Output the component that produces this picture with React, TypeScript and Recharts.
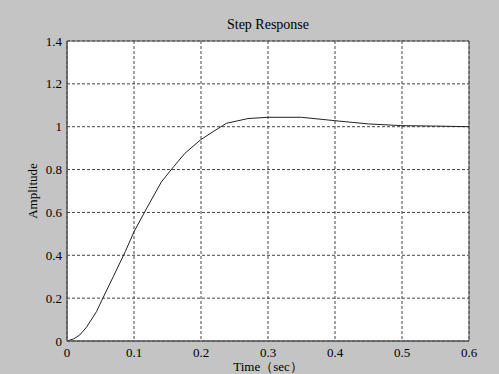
import React from 'react';
import { LineChart, Line, XAxis, YAxis, CartesianGrid, ReferenceArea } from 'recharts';

const timeSec = [0, 0.01, 0.019, 0.029, 0.044, 0.052, 0.069, 0.087, 0.1, 0.119, 0.141, 0.159, 0.176, 0.199, 0.218, 0.238, 0.27, 0.3, 0.35, 0.4, 0.45, 0.5, 0.55, 0.6];
const amplitude = [0, 0.01, 0.028, 0.064, 0.137, 0.19, 0.3, 0.417, 0.51, 0.62, 0.743, 0.813, 0.876, 0.938, 0.977, 1.016, 1.038, 1.044, 1.044, 1.028, 1.013, 1.005, 1.003, 1.0];
const xTicks = [0, 0.1, 0.2, 0.3, 0.4, 0.5, 0.6];
const yTicks = [0, 0.2, 0.4, 0.6, 0.8, 1, 1.2, 1.4];
const title = 'Step Response';
const xLabel = 'Time（sec）';
const yLabel = 'Amplitude';

const data = timeSec.map((t, i) => ({ t, a: amplitude[i] }));

const font = '"Liberation Serif", "DejaVu Serif", serif';
const tickStyle = { fontFamily: font, fontSize: 13, fill: '#000' };

export default function App() {
  return (
    <div style={{ position: 'fixed', left: 0, top: 0, width: 499, height: 374, background: '#c4c4c4' }}>
      <div style={{ position: 'absolute', left: 0, width: 536, top: 17, textAlign: 'center', fontFamily: font, fontSize: 14, color: '#000', lineHeight: '16px' }}>{title}</div>
      <LineChart width={499} height={374} data={data} margin={{ top: 41, right: 30, bottom: 0, left: 0 }}>
        <CartesianGrid fill="#ffffff" stroke="#444" strokeDasharray="3 2" strokeWidth={1} />
        <XAxis
          dataKey="t"
          type="number"
          domain={[0, 0.6]}
          ticks={xTicks}
          height={33}
          tickLine={false}
          tickSize={5}
          tickMargin={2}
          axisLine={{ stroke: '#555' }}
          tick={tickStyle}
          tickFormatter={(v: number) => String(v)}
          label={{ value: xLabel, position: 'insideBottom', offset: 3, style: { fontFamily: font, fontSize: 13, fill: '#000' } }}
        />
        <YAxis
          type="number"
          domain={[0, 1.4]}
          ticks={yTicks}
          width={67}
          tickLine={false}
          tickSize={3}
          tickMargin={2}
          axisLine={{ stroke: '#555' }}
          tick={tickStyle}
          tickFormatter={(v: number) => String(v)}
          label={{ value: yLabel, angle: -90, position: 'center', dx: -1, style: { fontFamily: font, fontSize: 13, fill: '#000' } }}
        />
        <ReferenceArea x1={0} x2={0.6} y1={0} y2={1.4} fill="none" fillOpacity={0} stroke="#555" strokeWidth={1} />
        <Line type="linear" dataKey="a" stroke="#222" strokeWidth={1} dot={false} isAnimationActive={false} />
      </LineChart>
    </div>
  );
}
